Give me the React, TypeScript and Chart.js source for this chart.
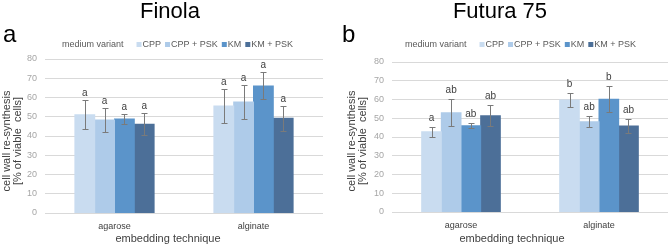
import React, { useEffect, useRef } from "react";
import { Chart, registerables } from "chart.js";
Chart.register(...registerables);

const FONT = "'Liberation Sans', Arial, sans-serif";

const categories = ["agarose", "alginate"];
const seriesLabels = ["CPP", "CPP + PSK", "KM", "KM + PSK"];
const seriesColors = ["#c9dcf0", "#aecbe9", "#5b94ca", "#4c6f98"];
const yMin = 0;
const yMax = 80;
const yStep = 10;

// Finola
const finolaCPP = [51, 55.6];
const finolaCPPPSK = [48.3, 57.6];
const finolaKM = [48.8, 66];
const finolaKMPSK = [46.1, 49.2];
const finolaErrCPP = [7.6, 8.6];
const finolaErrCPPPSK = [6.3, 8.7];
const finolaErrKM = [2.6, 7.0];
const finolaErrKMPSK = [5.8, 6.6];
const finolaLetCPP = ["a", "a"];
const finolaLetCPPPSK = ["a", "a"];
const finolaLetKM = ["a", "a"];
const finolaLetKMPSK = ["a", "a"];

// Futura 75
const futuraCPP = [42.8, 59.7];
const futuraCPPPSK = [53, 48.1];
const futuraKM = [46, 60.1];
const futuraKMPSK = [51.3, 45.9];
const futuraErrCPP = [2.6, 3.8];
const futuraErrCPPPSK = [7.4, 2.9];
const futuraErrKM = [1.4, 6.9];
const futuraErrKMPSK = [5.6, 3.6];
const futuraLetCPP = ["a", "b"];
const futuraLetCPPPSK = ["ab", "ab"];
const futuraLetKM = ["ab", "b"];
const futuraLetKMPSK = ["ab", "ab"];

const yTitleLines = ["cell wall re-synthesis", "[% of viable  cells]"];
const xTitle = "embedding technique";
const legendTitle = "medium variant";

type PanelCfg = {
  title: string;
  letter: string;
  values: number[][];
  errors: number[][];
  letters: string[][];
  left: number;
  width: number;
  area: { left: number; right: number; top: number; bottom: number };
  titleX: number;
  letterX: number;
  legendX: number;
  yTitleX: [number, number];
  xTitleX: number;
  letterGap: number;
};

const panels: PanelCfg[] = [
  {
    title: "Finola",
    letter: "a",
    values: [finolaCPP, finolaCPPPSK, finolaKM, finolaKMPSK],
    errors: [finolaErrCPP, finolaErrCPPPSK, finolaErrKM, finolaErrKMPSK],
    letters: [finolaLetCPP, finolaLetCPPPSK, finolaLetKM, finolaLetKMPSK],
    left: 0,
    width: 335,
    area: { left: 45, right: 323, top: 59, bottom: 213 },
    titleX: 170,
    letterX: 3,
    legendX: 62,
    yTitleX: [7, 18],
    xTitleX: 168,
    letterGap: 5,
  },
  {
    title: "Futura 75",
    letter: "b",
    values: [futuraCPP, futuraCPPPSK, futuraKM, futuraKMPSK],
    errors: [futuraErrCPP, futuraErrCPPPSK, futuraErrKM, futuraErrKMPSK],
    letters: [futuraLetCPP, futuraLetCPPPSK, futuraLetKM, futuraLetKMPSK],
    left: 335,
    width: 334,
    area: { left: 57, right: 333, top: 62, bottom: 212 },
    titleX: 165,
    letterX: 7,
    legendX: 70,
    yTitleX: [17, 28],
    xTitleX: 177,
    letterGap: 7,
  },
];

const H = 247;

function Panel({ cfg }: { cfg: PanelCfg }) {
  const ref = useRef<HTMLCanvasElement | null>(null);
  useEffect(() => {
    const canvas = ref.current!;
    const W = cfg.width;
    const decor = {
      id: "decor",
      afterDatasetsDraw(chart: any) {
        const ctx = chart.ctx as CanvasRenderingContext2D;
        const ys = chart.scales.y;
        ctx.save();
        cfg.values.forEach((vals, i) => {
          const meta = chart.getDatasetMeta(i);
          vals.forEach((v, j) => {
            const el = meta.data[j];
            const e = cfg.errors[i][j];
            const x = Math.round(el.x) + 0.5;
            const yt = Math.round(ys.getPixelForValue(v + e)) + 0.5;
            const yb = Math.round(ys.getPixelForValue(v - e)) + 0.5;
            ctx.strokeStyle = "#7a7a7a";
            ctx.lineWidth = 1;
            ctx.beginPath();
            ctx.moveTo(x, yt);
            ctx.lineTo(x, yb);
            ctx.moveTo(x - 3, yt);
            ctx.lineTo(x + 3, yt);
            ctx.moveTo(x - 3, yb);
            ctx.lineTo(x + 3, yb);
            ctx.stroke();
            ctx.fillStyle = "#404040";
            ctx.font = `10px ${FONT}`;
            ctx.textAlign = "center";
            ctx.textBaseline = "alphabetic";
            ctx.fillText(cfg.letters[i][j], el.x, yt - cfg.letterGap);
          });
        });
        ctx.restore();
      },
      afterDraw(chart: any) {
        const ctx = chart.ctx as CanvasRenderingContext2D;
        ctx.save();
        ctx.fillStyle = "#000000";
        ctx.font = `22px ${FONT}`;
        ctx.textAlign = "center";
        ctx.textBaseline = "alphabetic";
        ctx.fillText(cfg.title, cfg.titleX, 18);
        ctx.textAlign = "left";
        ctx.font = `24px ${FONT}`;
        ctx.fillText(cfg.letter, cfg.letterX, 42);
        // legend
        ctx.font = `9px ${FONT}`;
        ctx.fillStyle = "#595959";
        ctx.textBaseline = "middle";
        let x = cfg.legendX;
        const ly = 45;
        ctx.fillText(legendTitle, x, ly);
        x += ctx.measureText(legendTitle).width + 13;
        seriesLabels.forEach((lab, i) => {
          ctx.fillStyle = seriesColors[i];
          ctx.fillRect(x, ly - 3, 5, 5);
          x += 6;
          ctx.fillStyle = "#595959";
          ctx.fillText(lab, x, ly);
          x += ctx.measureText(lab).width + 4;
        });
        // y title
        ctx.font = `11px ${FONT}`;
        ctx.fillStyle = "#404040";
        ctx.textAlign = "center";
        ctx.textBaseline = "middle";
        yTitleLines.forEach((line, k) => {
          ctx.save();
          ctx.translate(cfg.yTitleX[k], 141);
          ctx.rotate(-Math.PI / 2);
          ctx.fillText(line, 0, 0);
          ctx.restore();
        });
        // x title
        ctx.font = `11px ${FONT}`;
        ctx.textBaseline = "alphabetic";
        ctx.fillText(xTitle, cfg.xTitleX, 242);
        ctx.restore();
      },
    };

    const chart = new Chart(canvas, {
      type: "bar",
      data: {
        labels: categories,
        datasets: cfg.values.map((vals, i) => ({
          label: seriesLabels[i],
          data: vals,
          backgroundColor: seriesColors[i],
          borderWidth: 0,
          inflateAmount: 0.5,
          categoryPercentage: 0.57,
          barPercentage: 1,
        })),
      },
      options: {
        animation: false,
        responsive: false,
        devicePixelRatio: 1,
        layout: {
          padding: { top: cfg.area.top, right: W - cfg.area.right, bottom: 0, left: 0 },
        },
        plugins: {
          legend: { display: false },
          title: { display: false },
          tooltip: { enabled: false },
        },
        scales: {
          x: {
            grid: { display: false },
            border: { display: false },
            ticks: { color: "#404040", font: { size: 9, family: FONT }, padding: 0 },
            afterFit: (s: any) => {
              s.height = H - cfg.area.bottom;
            },
          },
          y: {
            min: yMin,
            max: yMax,
            grid: { color: "#d9d9d9", drawTicks: false },
            border: { display: false },
            ticks: {
              stepSize: yStep,
              color: "#a6a6a6",
              font: { size: 9, family: FONT },
              padding: 8,
            },
            afterFit: (s: any) => {
              s.width = cfg.area.left;
            },
          },
        },
      },
      plugins: [decor],
    });
    return () => chart.destroy();
  }, [cfg]);
  return (
    <canvas
      ref={ref}
      width={cfg.width}
      height={H}
      style={{ position: "absolute", left: cfg.left, top: 0, width: cfg.width, height: H }}
    />
  );
}

export default function App() {
  return (
    <div style={{ position: "absolute", left: 0, top: 0, width: 669, height: H, background: "#ffffff" }}>
      {panels.map((p) => (
        <Panel key={p.title} cfg={p} />
      ))}
    </div>
  );
}
